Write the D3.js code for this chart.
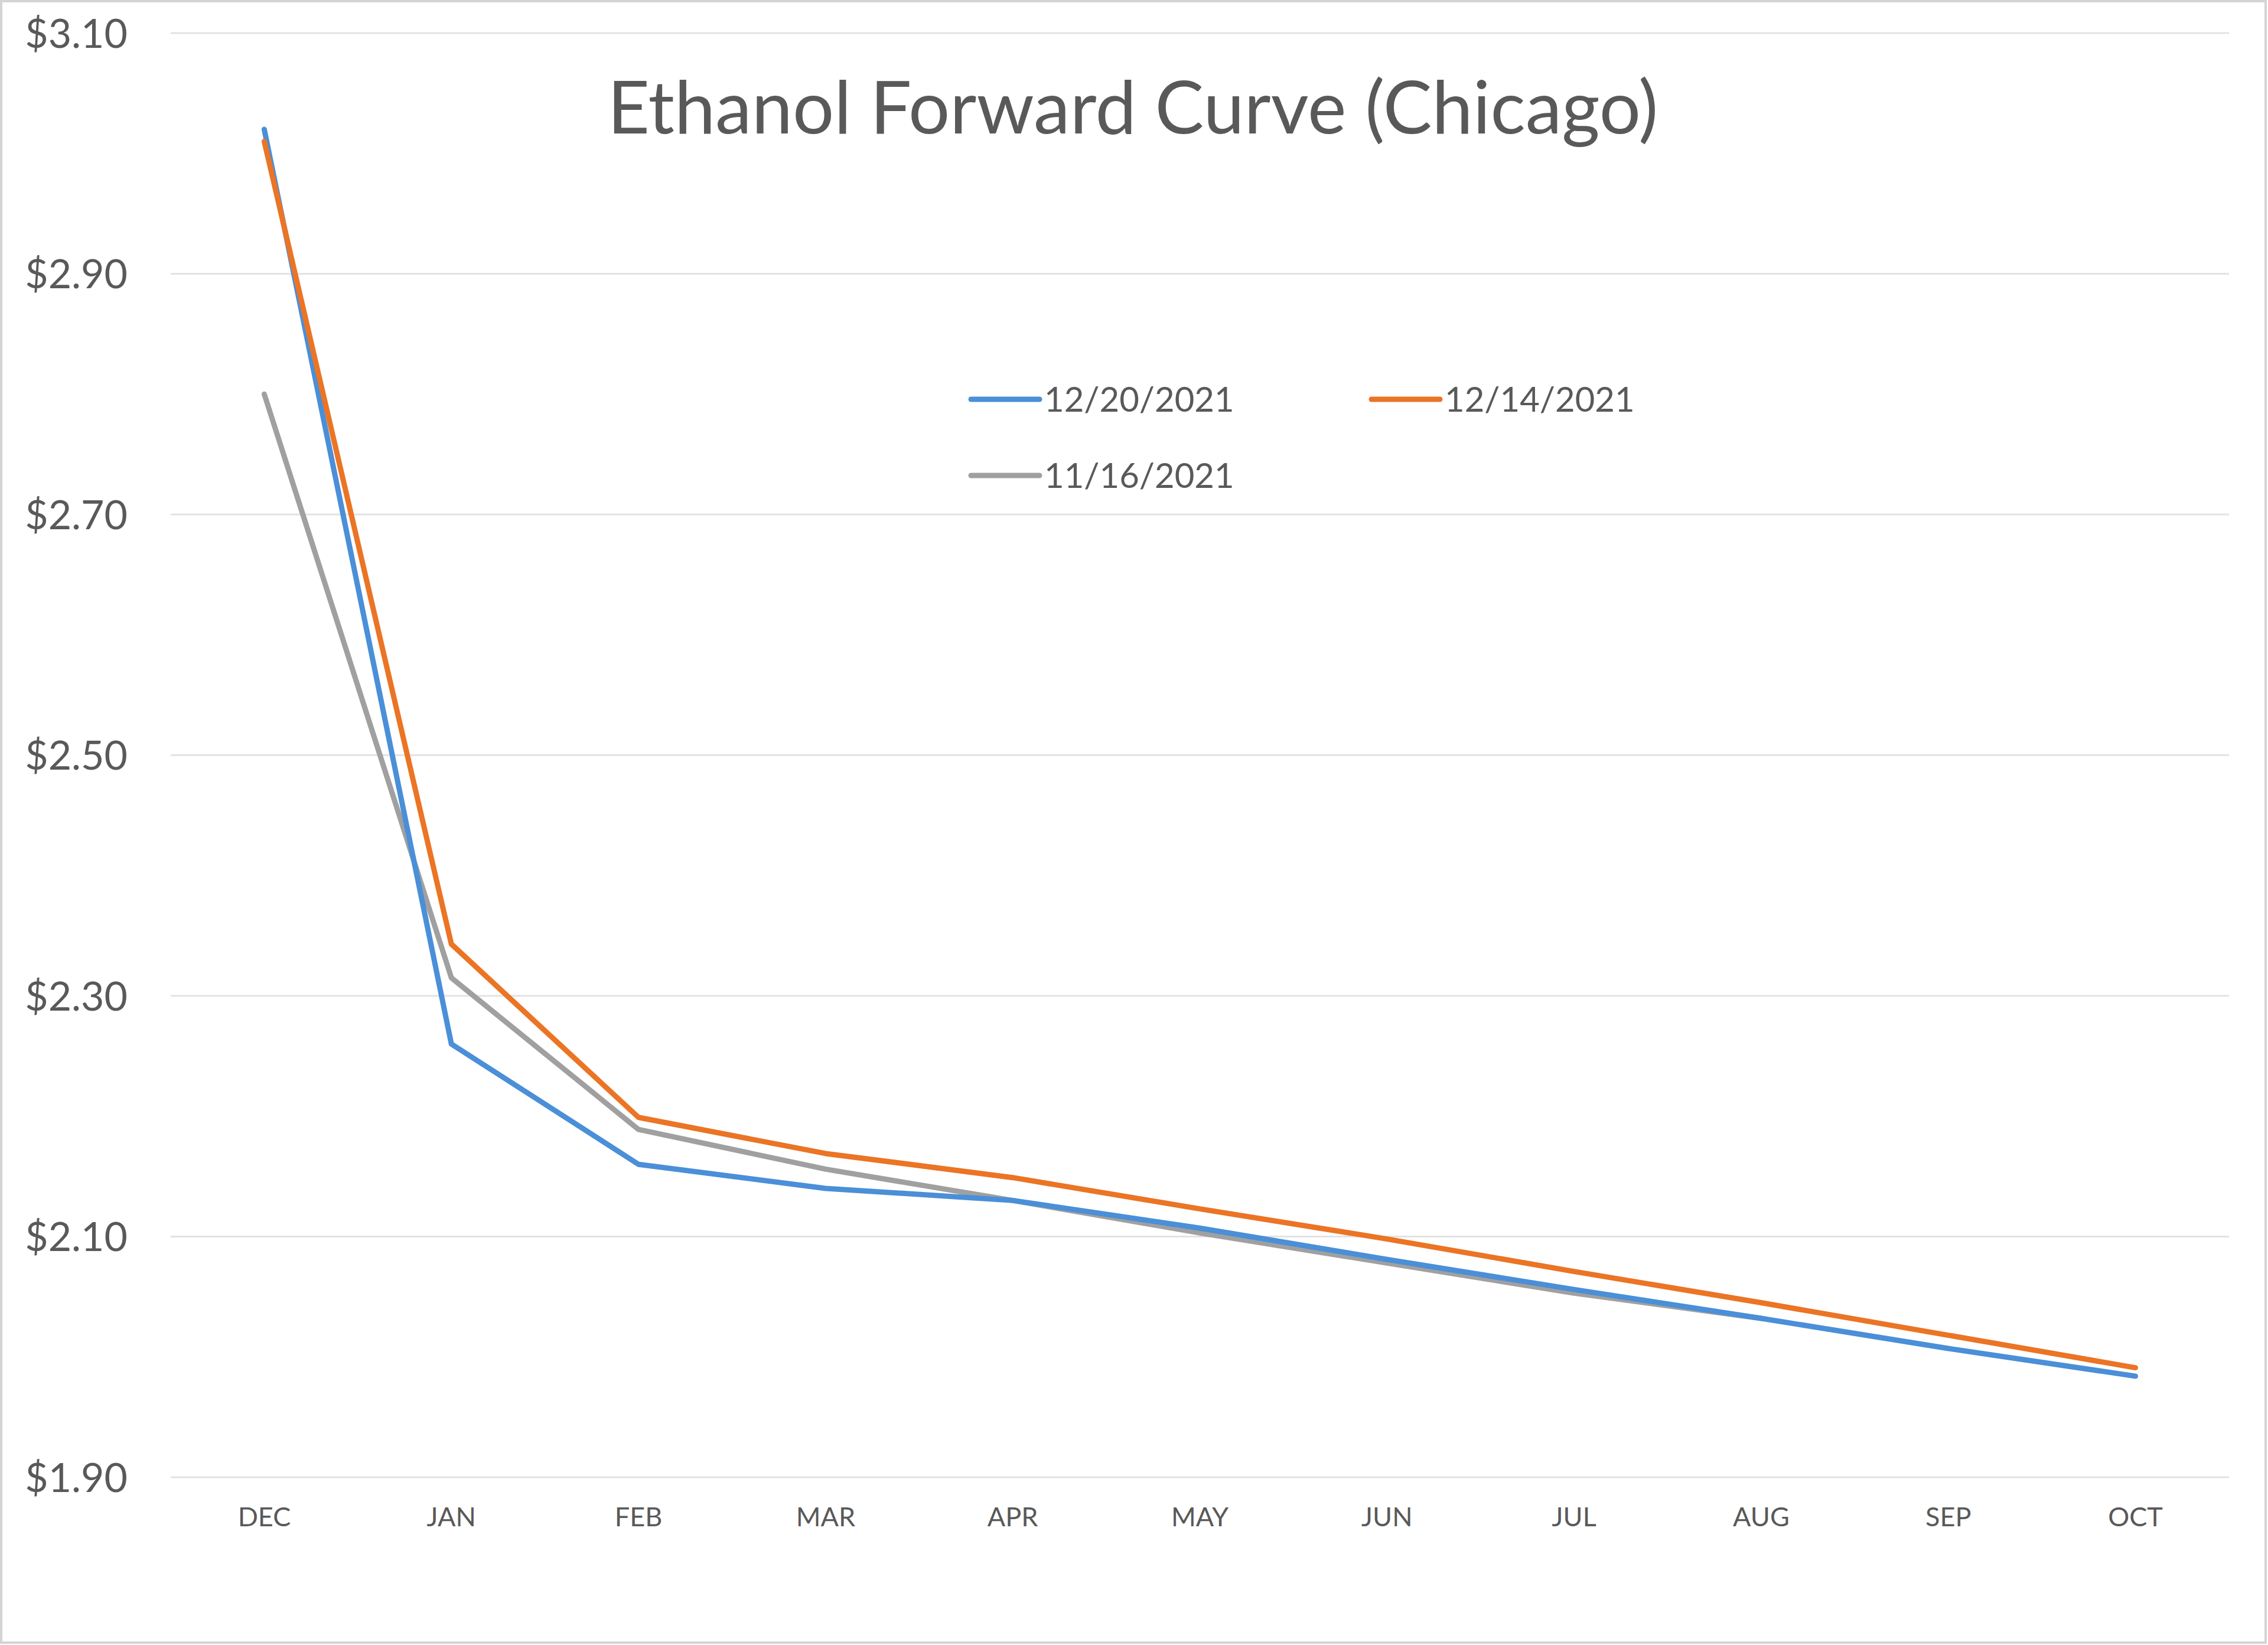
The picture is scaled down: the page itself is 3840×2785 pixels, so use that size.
<!DOCTYPE html>
<html><head><meta charset="utf-8">
<script src="https://cdn.jsdelivr.net/npm/d3@7/dist/d3.min.js"></script>
<style>body{margin:0;background:#fff}svg{display:block}</style>
</head><body>
<svg id="c" width="3840" height="2785"></svg>
<script>
const months = ["DEC","JAN","FEB","MAR","APR","MAY","JUN","JUL","AUG","SEP","OCT"];
const s1220 = [3.02,2.26,2.16,2.14,2.13,2.107,2.081,2.056,2.032,2.007,1.984];
const s1214 = [3.01,2.343,2.199,2.169,2.149,2.123,2.098,2.071,2.045,2.018,1.991];
const s1116 = [2.80,2.315,2.189,2.156,2.13,2.103,2.078,2.053,2.032,null,null];
const seriesNames = ["12/20/2021","12/14/2021","11/16/2021"];
const yTicks = [1.90,2.10,2.30,2.50,2.70,2.90,3.10];
const title = "Ethanol Forward Curve (Chicago)";

const colors = ["#4A8FD8","#EB7425","#A0A0A0"];
const font = "Lato, 'Open Sans', sans-serif";
const svg = d3.select("#c");

svg.append("rect").attr("x",2).attr("y",2).attr("width",3834).attr("height",2779)
  .attr("fill","#fff").attr("stroke","#D4D4D4").attr("stroke-width",4);

const x = d3.scaleBand().domain(months).range([289,3774]).padding(0);
const xc = m => x(m) + x.bandwidth()/2;
const y = d3.scaleLinear().domain([1.90,3.10]).range([2501,56]);

// gridlines
svg.append("g").selectAll("line").data(yTicks).join("line")
  .attr("x1",289).attr("x2",3774)
  .attr("y1",d=>y(d)).attr("y2",d=>y(d))
  .attr("stroke","#E3E3E3").attr("stroke-width",3);

// y axis labels
const yAxis = d3.axisLeft(y).tickValues(yTicks).tickSize(0).tickPadding(0)
  .tickFormat(d=>"$"+d3.format(".2f")(d));
const gy = svg.append("g").attr("transform","translate(216,0)").call(yAxis);
gy.select(".domain").remove();
gy.selectAll("text").attr("font-family",font).attr("font-size",68).attr("fill","#595959")
  .attr("dy","0.36em");

// x axis labels
const xAxis = d3.axisBottom(x).tickSize(0).tickPadding(0);
const gx = svg.append("g").attr("transform","translate(0,2552)").call(xAxis);
gx.select(".domain").remove();
gx.selectAll("text").attr("font-family",font).attr("font-size",45).attr("fill","#595959")
  .attr("dy","0.71em");

// lines
const allSeries = [s1220, s1214, s1116];
const line = d3.line().defined(d=>d.v!=null).x(d=>xc(d.m)).y(d=>y(d.v));
const order = [2,0,1];
order.forEach(i=>{
  svg.append("path")
    .datum(months.map((m,j)=>({m, v: allSeries[i][j]})))
    .attr("d",line).attr("fill","none").attr("stroke",colors[i])
    .attr("stroke-width",9).attr("stroke-linejoin","round").attr("stroke-linecap","round");
});

// title
svg.append("text").attr("x",1918).attr("y",226).attr("text-anchor","middle")
  .attr("font-family",font).attr("font-size",124).attr("fill","#595959").text(title);

// legend
const legendPos = [{lx:1644,ly:676},{lx:2322,ly:676},{lx:1644,ly:805}];
seriesNames.forEach((n,i)=>{
  const p = legendPos[i];
  svg.append("line").attr("x1",p.lx).attr("x2",p.lx+116).attr("y1",p.ly).attr("y2",p.ly)
    .attr("stroke",colors[i]).attr("stroke-width",9).attr("stroke-linecap","round");
  svg.append("text").attr("x",p.lx+124).attr("y",p.ly+21)
    .attr("font-family",font).attr("font-size",58).attr("fill","#595959").text(n);
});
</script>
</body></html>
